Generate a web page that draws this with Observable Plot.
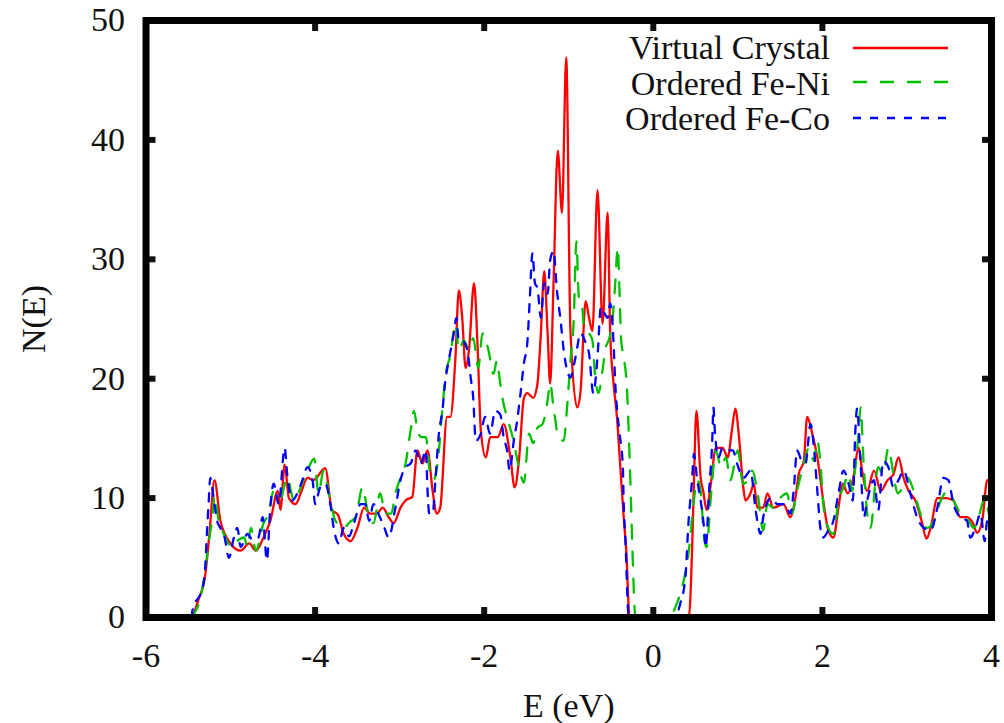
<!DOCTYPE html>
<html>
<head>
<meta charset="utf-8">
<script src="https://cdn.jsdelivr.net/npm/d3@7"></script>
<script src="https://cdn.jsdelivr.net/npm/@observablehq/plot@0.6"></script>
<style>
  html, body { margin: 0; padding: 0; background: #fff; }
  #chart { position: relative; width: 1004px; height: 723px; }
  #chart svg, #chart svg text { font-family: "Liberation Serif", "Times New Roman", Times, "DejaVu Serif", serif !important; }
</style>
</head>
<body>
<div id="chart"></div>
<script>
// ---- data (E in eV, N(E)) ----
const seriesNames = ["Virtual Crystal", "Ordered Fe-Ni", "Ordered Fe-Co"];
const seriesColors = ["#ff0000", "#00c000", "#0000ff"];
const seriesDash = [null, "14,13", "8,9"];
const xTicks = [-6, -4, -2, 0, 2, 4];
const yTicks = [0, 10, 20, 30, 40, 50];

const virtualCrystal = [
  [-5.45,0],[-5.38,1.5],[-5.30,3.5],[-5.25,7],[-5.19,11.5],[-5.12,8.1],[-5.00,6.2],[-4.88,5.6],
  [-4.78,6.2],[-4.70,5.6],[-4.61,6.7],[-4.53,8.1],[-4.44,10.6],[-4.41,9],[-4.36,12.8],[-4.31,10],
  [-4.23,9.5],[-4.17,10.4],[-4.09,11.7],[-4.02,11.5],[-3.88,12.5],[-3.80,9],[-3.73,8.6],[-3.66,7.0],
  [-3.58,6.4],[-3.50,7.5],[-3.42,9.2],[-3.35,8.7],[-3.27,8.7],[-3.20,9.2],[-3.13,8.4],[-3.07,7.9],
  [-2.99,9.2],[-2.93,9.8],[-2.85,10.1],[-2.79,14],[-2.73,12.9],[-2.67,14],[-2.61,10.6],[-2.56,8.7],
  [-2.52,9.2],[-2.44,16.8],[-2.40,16.8],[-2.34,21.8],[-2.30,27.4],[-2.26,25.1],[-2.22,20.9],[-2.18,22.4],
  [-2.12,28],[-2.08,23],[-2.04,15.7],[-1.98,13.4],[-1.93,15.1],[-1.84,15.1],[-1.77,16.2],[-1.69,13.4],
  [-1.64,10.9],[-1.59,13.1],[-1.53,18.4],[-1.49,18.8],[-1.42,18.4],[-1.37,19.6],[-1.33,23.8],[-1.29,29],
  [-1.25,23.8],[-1.22,19.6],[-1.18,28],[-1.13,39.1],[-1.08,33.9],[-1.03,46.9],[-0.98,24],[-0.90,17.6],
  [-0.86,19],[-0.80,26.5],[-0.76,25.1],[-0.72,24],[-0.66,35.8],[-0.60,24.6],[-0.54,33.9],[-0.51,23.8],
  [-0.47,19.6],[-0.43,16.8],[-0.39,12.6],[-0.35,8.4],[-0.32,5.6],[-0.28,0],
  [0.42,0],[0.46,6],[0.48,11.2],[0.51,17.3],[0.56,11.7],[0.59,10.6],[0.63,9],[0.68,11.2],[0.74,14.2],
  [0.82,14.2],[0.88,13.4],[0.93,15.7],[0.97,17.5],[1.01,15.4],[1.06,11.2],[1.09,9.8],[1.15,10.4],
  [1.19,11.2],[1.23,9.2],[1.30,9.2],[1.35,10.4],[1.42,9.2],[1.54,9.5],[1.62,8.4],[1.68,10],[1.72,12],
  [1.78,13.1],[1.82,16.8],[1.88,15.4],[1.94,13.4],[2.01,9.8],[2.07,7.3],[2.13,6.7],[2.19,9.2],[2.24,11.2],
  [2.30,10.4],[2.36,11.5],[2.43,14.2],[2.47,12.3],[2.53,10.6],[2.61,12.3],[2.69,10.6],[2.77,11.5],
  [2.84,12],[2.90,13.4],[2.96,11.7],[3.02,10.6],[3.10,9.8],[3.18,7.9],[3.23,6.6],[3.28,7.5],[3.36,10],
  [3.46,10],[3.55,9.8],[3.63,8.4],[3.71,8.4],[3.78,7.9],[3.83,7.1],[3.89,8.1],[3.95,11.5],[4.00,11.5]
];

const orderedFeNi = [
  [-5.46,0],[-5.33,2.5],[-5.26,6.2],[-5.21,8.7],[-5.19,10.2],[-5.14,8.1],[-5.08,7],[-4.98,5.9],
  [-4.92,6.4],[-4.84,6.7],[-4.80,5.9],[-4.76,7.5],[-4.70,5.6],[-4.61,7.9],[-4.55,8.7],[-4.49,10.6],
  [-4.41,10],[-4.33,11.7],[-4.25,9.8],[-4.20,10.4],[-4.14,11.5],[-4.08,12.5],[-4.01,13.3],[-3.96,10.4],
  [-3.90,12.3],[-3.82,9.8],[-3.76,8.1],[-3.66,7.5],[-3.59,8.0],[-3.52,8.4],[-3.44,10.9],[-3.38,9],
  [-3.31,7.9],[-3.23,10.4],[-3.17,8.7],[-3.10,8.7],[-3.05,10.4],[-2.99,11.7],[-2.93,12.9],[-2.87,15.7],
  [-2.83,17.3],[-2.79,15.7],[-2.74,15.1],[-2.69,15.1],[-2.64,12],[-2.60,11.5],[-2.55,13],[-2.50,17],
  [-2.46,20.1],[-2.40,22],[-2.34,24.6],[-2.30,22.4],[-2.24,23.2],[-2.18,22.4],[-2.13,23.4],[-2.07,20.9],
  [-2.02,23.8],[-1.95,22.4],[-1.89,20.4],[-1.85,21.5],[-1.81,19.6],[-1.78,18.2],[-1.73,16.8],[-1.66,15],
  [-1.59,12.6],[-1.53,11.3],[-1.47,15.4],[-1.42,14.6],[-1.37,15.9],[-1.31,16.2],[-1.25,18.2],[-1.22,19.6],
  [-1.18,17.6],[-1.12,15.1],[-1.06,14.8],[-1.02,17.6],[-0.98,21.5],[-0.94,25.1],[-0.91,31.5],[-0.88,26.8],
  [-0.84,26],[-0.82,24.3],[-0.76,23.8],[-0.72,23.2],[-0.69,20.4],[-0.65,18.8],[-0.60,20.7],[-0.57,22.4],
  [-0.52,23.4],[-0.48,25.1],[-0.45,28],[-0.42,31],[-0.40,27.4],[-0.38,23.2],[-0.35,21.8],[-0.31,19],
  [-0.29,15.4],[-0.27,11.2],[-0.25,6.4],[-0.21,0],
  [0.18,0],[0.28,1.2],[0.36,3.1],[0.42,5.6],[0.48,9.8],[0.52,11.5],[0.56,10.6],[0.60,6.7],[0.63,5.9],
  [0.68,10],[0.74,14],[0.80,12.6],[0.86,13.4],[0.91,11.5],[1.00,14],[1.06,11.2],[1.12,11.5],[1.17,12.3],
  [1.23,10.6],[1.30,7.3],[1.35,9.5],[1.42,9.2],[1.50,10],[1.58,10.4],[1.64,8.7],[1.70,10.6],[1.78,12.9],
  [1.84,14.2],[1.90,13.1],[1.94,14.8],[1.98,12.6],[2.01,9.5],[2.07,7.5],[2.13,7],[2.19,9.8],[2.25,10.9],
  [2.31,12],[2.35,10.6],[2.39,12.6],[2.43,15.7],[2.45,17.6],[2.49,12.6],[2.53,8.7],[2.57,7.5],[2.63,11.5],
  [2.66,12.6],[2.72,12],[2.78,14.2],[2.84,12],[2.89,10.4],[2.95,10.9],[3.01,11.7],[3.08,10.6],[3.16,8.7],
  [3.24,7.5],[3.32,8.1],[3.40,9.8],[3.48,10.6],[3.55,9.8],[3.66,8.4],[3.73,8.1],[3.79,7.5],[3.85,8.4],
  [3.89,9.5],[3.93,10],[3.97,8.7],[4.00,8.5]
];

const orderedFeCo = [
  [-5.46,0],[-5.45,0.6],[-5.33,2.5],[-5.30,4.2],[-5.28,7],[-5.26,9.5],[-5.24,11.7],[-5.20,10],
  [-5.16,8.1],[-5.12,7.5],[-5.07,6.7],[-5.02,5],[-4.96,6.7],[-4.92,7.5],[-4.88,5.9],[-4.80,7],
  [-4.74,6.5],[-4.67,6.7],[-4.62,8.4],[-4.57,4.8],[-4.53,9.2],[-4.49,11.2],[-4.43,9.5],[-4.36,14.2],
  [-4.33,12],[-4.27,9.8],[-4.21,10.4],[-4.15,11.5],[-4.09,12.6],[-4.03,11.5],[-4.00,9.5],[-3.94,10.9],
  [-3.88,11.2],[-3.82,9.5],[-3.78,7.5],[-3.72,6.2],[-3.66,7.5],[-3.60,6.8],[-3.54,7.9],[-3.46,9.5],
  [-3.41,9.5],[-3.36,8.1],[-3.31,9.5],[-3.24,8.5],[-3.18,7.5],[-3.13,6.7],[-3.05,9.2],[-2.99,11.5],
  [-2.93,12.6],[-2.87,12.9],[-2.81,14],[-2.75,12.9],[-2.69,14],[-2.67,10.6],[-2.65,8.7],[-2.61,8.7],
  [-2.58,11.2],[-2.54,15.1],[-2.49,17.6],[-2.46,19.8],[-2.42,21.5],[-2.36,23.8],[-2.33,25.1],[-2.30,23.2],
  [-2.26,23.2],[-2.20,22.4],[-2.16,20.1],[-2.13,18.4],[-2.10,14.8],[-2.04,15.4],[-1.99,16.8],[-1.93,15.4],
  [-1.87,17.3],[-1.81,17],[-1.77,15.1],[-1.73,14],[-1.70,12.3],[-1.65,14.8],[-1.61,16.5],[-1.57,18.8],
  [-1.53,21.3],[-1.49,23],[-1.46,26.8],[-1.43,30.5],[-1.40,28],[-1.37,27.6],[-1.33,25.1],[-1.29,28],
  [-1.25,27.1],[-1.22,29.9],[-1.18,30.7],[-1.14,27.4],[-1.10,25.1],[-1.06,22.4],[-1.02,20.7],[-0.98,20.1],
  [-0.92,21.8],[-0.86,23.8],[-0.80,23],[-0.76,22.1],[-0.71,18.8],[-0.66,21.8],[-0.62,26],[-0.58,25.5],
  [-0.54,25.1],[-0.51,26.3],[-0.47,23],[-0.45,19.6],[-0.43,17.5],[-0.40,15.5],[-0.36,12.6],[-0.35,9.5],
  [-0.33,6.5],[-0.29,0],
  [0.25,0],[0.32,1.2],[0.38,3.4],[0.42,8.4],[0.44,10],[0.46,11.7],[0.48,13.7],[0.52,11.5],[0.56,9.8],
  [0.60,7.5],[0.62,5.9],[0.66,10.6],[0.70,15.4],[0.71,17.6],[0.73,15.4],[0.77,13.4],[0.82,14.2],[0.88,14],
  [0.94,14],[0.99,12.9],[1.07,11.7],[1.15,12.3],[1.21,9],[1.27,7],[1.30,8.4],[1.39,10],[1.47,9.5],
  [1.56,9.5],[1.62,8.7],[1.66,10.6],[1.70,14],[1.75,13.2],[1.80,12.9],[1.86,16.2],[1.90,14.2],[1.94,10.6],
  [1.98,7.3],[2.01,6.7],[2.07,7.3],[2.13,8.1],[2.19,10.4],[2.25,12.3],[2.31,11.2],[2.36,9.8],[2.39,15.7],
  [2.41,17.5],[2.45,13.1],[2.49,8.4],[2.53,9.8],[2.61,11.5],[2.66,9],[2.72,13.1],[2.78,12.6],[2.84,10.9],
  [2.90,11.5],[2.96,12.3],[3.04,10.4],[3.12,8.4],[3.20,7.5],[3.28,7.3],[3.36,9.2],[3.43,11.7],[3.49,11.5],
  [3.55,9.5],[3.63,8.4],[3.71,8.1],[3.75,6.7],[3.81,7.5],[3.87,8.7],[3.92,6.4],[3.95,8.1],[4.00,8]
];

const allSeries = [virtualCrystal, orderedFeNi, orderedFeCo];

const W = 1004, H = 723;
const fmt = d => String(d);
const serif = "Liberation Serif, Times New Roman, Times, DejaVu Serif, serif";

const lineMarks = allSeries.map((s, i) => Plot.line(s, {
  x: d => d[0], y: d => d[1],
  stroke: seriesColors[i], strokeWidth: 2.3,
  strokeDasharray: seriesDash[i] || undefined,
  curve: "monotone-x",
  clip: true
}));

const chart = Plot.plot({
  width: W, height: H,
  marginLeft: 145.5, marginRight: 13, marginTop: 20, marginBottom: 106,
  style: { fontFamily: serif, fontSize: "34px", color: "#111", background: "#fff" },
  x: { domain: [-6, 4] },
  y: { domain: [0, 50] },
  marks: [
    ...lineMarks,
    Plot.axisX({ anchor: "bottom", ticks: xTicks, tickSize: -10, tickPadding: 35, strokeWidth: 6,
      tickFormat: fmt, label: "E (eV)", labelAnchor: "center", labelOffset: 99, labelArrow: "none" }),
    Plot.axisX({ anchor: "top", ticks: xTicks, tickSize: -10, strokeWidth: 6, tickFormat: () => "", label: null }),
    Plot.axisY({ anchor: "left", ticks: yTicks, tickSize: -10, tickPadding: 31, strokeWidth: 6,
      tickFormat: fmt, label: "N(E)", labelAnchor: "center", labelOffset: 125, labelArrow: "none" }),
    Plot.axisY({ anchor: "right", ticks: yTicks, tickSize: -10, strokeWidth: 6, tickFormat: () => "", label: null }),
    Plot.frame({ stroke: "#000", strokeWidth: 7 })
  ]
});

document.getElementById("chart").appendChild(chart);

// legend inside the frame (top right), as in the reference
const svg = d3.select(chart.tagName.toLowerCase() === "svg" ? chart : chart.querySelector("svg"));
const legendRows = [59, 95, 130];
const legendLineY = [48, 82, 118];
const lg = svg.append("g").attr("class", "legend")
  .attr("font-family", serif)
  .attr("font-size", 34);
seriesNames.forEach((name, i) => {
  lg.append("rect").attr("x", 612).attr("y", legendLineY[i] - 17).attr("width", 345).attr("height", 35).attr("fill", "#fff");
});
seriesNames.forEach((name, i) => {
  lg.append("text").attr("x", 830).attr("y", legendRows[i]).attr("text-anchor", "end").attr("fill", "#111").text(name);
  lg.append("line").attr("x1", 853).attr("x2", 948).attr("y1", legendLineY[i]).attr("y2", legendLineY[i])
    .attr("stroke", seriesColors[i]).attr("stroke-width", 2.3)
    .attr("stroke-dasharray", seriesDash[i]);
});
</script>
</body>
</html>
